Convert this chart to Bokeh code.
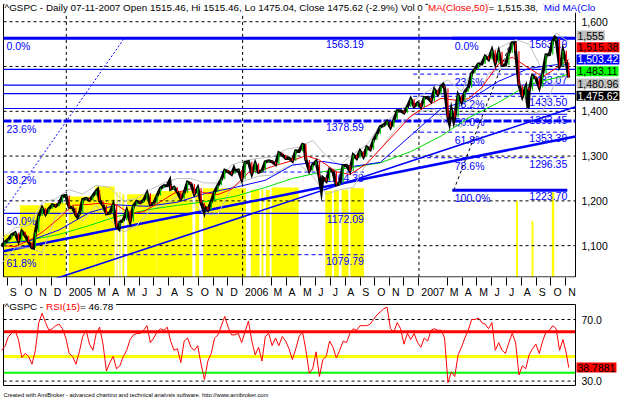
import pandas as pd
from bokeh.plotting import figure
from bokeh.models import Range1d, FixedTicker, Label, ColumnDataSource
from bokeh.layouts import column
from bokeh.embed import file_html
from bokeh.resources import INLINE
from bokeh.core.properties import value

# ======================= DATA =======================
first_week = "2004-08-20"
last_day = "2007-11-07"
weekly_close = [
    1098.35, 1107.77, 1113.63, 1123.92, 1128.55, 1110.11, 1131.50, 1122.14, 1108.20, 1095.74,
    1130.20, 1166.17, 1184.17, 1170.34, 1182.65, 1191.17, 1188.00, 1194.20, 1210.13, 1211.92,
    1186.19, 1184.52, 1167.87, 1171.36, 1203.03, 1205.30, 1201.59, 1211.37, 1222.12, 1200.08,
    1190.21, 1171.42, 1172.92, 1191.14, 1142.62, 1152.12, 1156.85, 1178.84, 1154.05, 1189.28,
    1198.78, 1196.02, 1200.93, 1216.96, 1191.57, 1194.44, 1211.86, 1227.92, 1233.68, 1234.18,
    1226.42, 1230.39, 1219.71, 1205.10, 1218.02, 1241.48, 1237.91, 1215.29, 1228.81, 1195.90,
    1186.57, 1179.59, 1198.41, 1220.14, 1234.72, 1248.27, 1268.25, 1265.08, 1259.37, 1267.32,
    1268.66, 1248.29, 1285.45, 1287.61, 1261.49, 1283.72, 1264.03, 1266.99, 1287.24, 1289.43,
    1287.23, 1281.42, 1307.25, 1302.95, 1294.83, 1295.50, 1289.12, 1311.28, 1310.61, 1325.76,
    1291.24, 1267.03, 1280.16, 1288.22, 1252.30, 1251.54, 1244.50, 1270.20, 1265.48, 1236.20,
    1240.29, 1278.55, 1279.36, 1266.74, 1302.30, 1295.09, 1311.01, 1298.92, 1319.66, 1314.78,
    1335.85, 1349.59, 1365.62, 1368.60, 1377.34, 1364.30, 1380.90, 1401.20, 1400.95, 1396.71,
    1409.84, 1427.09, 1410.76, 1418.30, 1409.71, 1430.73, 1430.50, 1422.18, 1448.39, 1438.06,
    1455.54, 1451.19, 1387.17, 1402.84, 1386.95, 1436.11, 1420.86, 1443.76, 1452.85, 1484.35,
    1494.07, 1505.62, 1505.85, 1522.75, 1515.73, 1536.34, 1507.67, 1532.91, 1502.56, 1503.35,
    1530.44, 1552.50, 1534.10, 1458.95, 1433.06, 1453.64, 1445.94, 1479.37, 1473.99, 1453.55,
    1484.25, 1525.75, 1526.75, 1557.59, 1561.80, 1500.63, 1535.28, 1509.65, 1475.62]

swing_dates = ["2004-10-25", "2005-01-24", "2005-03-07", "2005-04-20", "2005-08-03",
               "2005-10-13", "2005-12-14", "2006-05-08", "2006-06-13", "2006-07-18",
               "2007-02-20", "2007-03-05", "2007-03-14", "2007-07-19", "2007-08-15",
               "2007-10-09", "2007-10-22"]
swing_closes = [1094.81, 1163.75, 1225.31, 1137.50, 1245.04, 1176.84, 1272.74, 1324.66,
                1223.69, 1236.86, 1459.68, 1374.12, 1377.95, 1553.08, 1406.70, 1565.15, 1506.33]

band_upper = [1115, 1140, 1145, 1195, 1205, 1225, 1215, 1235, 1230, 1200, 1205, 1225, 1240,
              1250, 1250, 1240, 1240, 1280, 1290, 1295, 1298, 1315, 1320, 1335, 1300, 1280,
              1305, 1325, 1370, 1390, 1415, 1435, 1455, 1470, 1445, 1500, 1530, 1545, 1560,
              1550, 1490, 1575, 1555]
band_lower = [1060, 1095, 1095, 1085, 1165, 1180, 1155, 1190, 1160, 1130, 1145, 1180, 1190,
              1210, 1200, 1170, 1170, 1230, 1245, 1255, 1258, 1275, 1282, 1255, 1215, 1225,
              1230, 1285, 1315, 1355, 1385, 1400, 1405, 1370, 1365, 1415, 1485, 1495, 1495,
              1395, 1400, 1470, 1480.96]

ma50_dates = ["2004-08-20", "2004-09-17", "2004-10-15", "2004-11-12", "2004-12-17",
              "2005-01-14", "2005-02-15", "2005-03-15", "2005-04-15", "2005-05-13", "2005-06-10",
              "2005-07-15", "2005-08-12", "2005-09-16", "2005-10-14", "2005-11-11", "2005-12-09",
              "2006-01-13", "2006-02-10", "2006-03-10", "2006-04-14", "2006-05-12", "2006-06-09",
              "2006-07-14", "2006-08-11", "2006-09-15", "2006-10-13", "2006-11-10", "2006-12-15",
              "2007-01-12", "2007-02-16", "2007-03-16", "2007-04-13", "2007-05-11", "2007-06-15",
              "2007-07-13", "2007-08-10", "2007-09-14", "2007-10-12", "2007-11-07"]
ma50_vals = [1100, 1098, 1111, 1130, 1161, 1190, 1192, 1195, 1191, 1171, 1176, 1198, 1217,
             1227, 1218, 1214, 1226, 1263, 1269, 1279, 1290, 1301, 1291, 1265, 1259, 1283,
             1316, 1348, 1389, 1409, 1429, 1425, 1428, 1453, 1506, 1521, 1501, 1477, 1496, 1515.38]

ma_long_dates = ["2004-08-20", "2004-10-15", "2004-12-17", "2005-02-18", "2005-04-15",
                 "2005-06-17", "2005-08-19", "2005-10-14", "2005-12-16", "2006-02-17",
                 "2006-04-14", "2006-06-16", "2006-08-18", "2006-10-13", "2006-12-15",
                 "2007-02-16", "2007-04-13", "2007-06-15", "2007-08-17", "2007-10-12", "2007-11-07"]
ma_mid_vals = [1105, 1110, 1135, 1174, 1191, 1188, 1197, 1216, 1230, 1246, 1280, 1288, 1277,
               1286, 1346, 1406, 1424, 1467, 1496, 1504, 1503.42]
ma200_vals = [1105, 1112, 1125, 1145, 1165, 1180, 1190, 1198, 1210, 1230, 1250, 1265, 1275,
              1285, 1310, 1345, 1385, 1420, 1460, 1475, 1483.11]

rsi_vals = [
    50, 52.5, 58.9, 61, 63, 56.8, 45.2, 48, 46, 41,
    50, 68, 74, 68, 63, 64, 66, 67, 64, 58,
    48, 46, 41, 49, 59, 63, 54, 50, 61, 65,
    54, 36.5, 42, 46, 38, 40, 46, 50, 57, 60,
    61, 61, 63, 66, 55, 58, 62, 64, 63, 65,
    56, 50, 51, 42, 56, 58, 52, 50, 53, 41,
    31, 43, 48, 58, 60, 66, 72, 65, 60, 60,
    61, 55, 62, 69, 56, 47, 52, 43, 59, 61,
    53, 58, 53, 59, 56, 51, 44, 51, 59, 62,
    50, 35, 38, 49, 33, 44, 46, 56, 52, 45,
    50, 56, 55, 61, 64, 63, 66, 66, 66, 67,
    70, 73, 75, 77, 78, 64, 62, 68, 64, 54,
    61, 57, 61, 55, 52, 58, 56, 63, 64, 63,
    63, 58, 29, 36, 33, 47, 52, 58, 63, 70,
    70, 71, 68, 67, 64, 68, 50, 55, 50, 48,
    55, 61, 55, 34, 40, 38, 47, 51, 54, 48,
    56, 62, 63, 66, 64, 50, 57, 48, 38.79]

yellow_start = ["2004-08-24", "2004-09-27", "2004-11-17", "2005-01-06", "2005-03-02",
                "2005-04-15", "2005-04-21", "2005-04-27", "2005-05-07", "2005-07-07",
                "2005-09-25", "2005-10-11", "2006-01-18", "2006-02-09", "2006-02-18",
                "2006-03-02", "2006-06-21", "2006-07-09", "2006-07-25", "2006-08-12",
                "2007-07-21", "2007-08-22", "2007-10-03"]
yellow_end = ["2004-09-27", "2004-11-17", "2004-12-31", "2005-03-02", "2005-04-11",
              "2005-04-17", "2005-04-23", "2005-05-01", "2005-07-07", "2005-09-19",
              "2005-10-03", "2006-01-08", "2006-02-05", "2006-02-13", "2006-02-26",
              "2006-04-27", "2006-07-05", "2006-07-19", "2006-08-08", "2006-09-09",
              "2007-07-25", "2007-08-26", "2007-10-08"]
yellow_top = [1125, 1190, 1195, 1210, 1232, 1220, 1220, 1215, 1215, 1222, 1215, 1228, 1225,
              1225, 1225, 1230, 1222, 1225, 1225, 1228, 1200, 1155, 1219]

hline_prices = [1493.75, 1458.3, 1439.6, 1406.25]

fib_left_pct = ["0.0%", "23.6%", "38.2%", "50.0%", "61.8%"]
fib_left_price = [1563.19, 1378.59, 1264.38, 1172.09, 1079.79]
fib_left_end = "2006-09-09"
fib_right_pct = ["0.0%", "23.6%", "38.2%", "50.0%", "61.8%", "78.6%", "100.0%"]
fib_right_price = [1563.19, 1483.07, 1433.50, 1393.45, 1353.39, 1296.35, 1223.70]
fib_right_start = "2006-12-20"
fib_right_label = "2007-03-14"
fib_right_end = "2007-11-04"

trend_d0 = ["2004-08-24", "2004-12-06"]
trend_p0 = [1087.5, 1025.0]
trend_d1 = ["2007-11-21", "2007-11-21"]
trend_p1 = [1343.75, 1410.4]
fibdiag_left = (["2004-08-24", "2005-05-01"], [1177.0, 1563.19])
fibdiag_right = (["2007-03-14", "2007-07-13"], [1223.70, 1563.19])

month_dates = ["2004-09-01", "2004-10-01", "2004-11-01", "2004-12-01", "2005-01-01", "2005-03-01",
               "2005-04-01", "2005-05-01", "2005-06-01", "2005-07-01", "2005-08-01", "2005-09-01",
               "2005-10-01", "2005-11-01", "2005-12-01", "2006-01-01", "2006-03-01", "2006-04-01",
               "2006-05-01", "2006-06-01", "2006-07-01", "2006-08-01", "2006-09-01", "2006-10-01",
               "2006-11-01", "2006-12-01", "2007-01-01", "2007-03-01", "2007-04-01", "2007-05-01",
               "2007-06-01", "2007-07-01", "2007-08-01", "2007-09-01", "2007-10-01", "2007-11-01"]
month_labels = ["S", "O", "N", "D", "2005", "M", "A", "M", "J", "J", "A", "S", "O", "N", "D",
                "2006", "M", "A", "M", "J", "J", "A", "S", "O", "N", "D", "2007", "M", "A",
                "M", "J", "J", "A", "S", "O", "N"]
year_lines = ["2005-01-01", "2006-01-01", "2007-01-01"]

price_grid = [1100, 1200, 1300, 1400, 1500, 1600]
price_tick_vals = [1100, 1200, 1300, 1400, 1600]
price_tick_labels = ["1,100", "1,200", "1,300", "1,400", "1,600"]

marker_values = [1555.0, 1515.38, 1503.42, 1483.11, 1480.96, 1475.62]
marker_texts = ["1,555", "1,515.38", "1,503.42", "1,483.11", "1,480.96", "1,475.62"]
marker_bg = ["#C0C0C0", "#FF0000", "#0000FF", "#00FF00", "#C0C0C0", "#000000"]
marker_fg = ["black", "black", "white", "black", "black", "white"]

rsi_grid = [30, 70]
rsi_tick_labels = ["30.0", "70.0"]
rsi_levels = [62, 46, 35.5]
rsi_level_colors = ["#FF0000", "#FFFF00", "#00FF00"]
rsi_last = 38.7881

title_parts = [("^GSPC - Daily 07-11-2007 Open 1515.46, Hi 1515.46, Lo 1475.04, Close 1475.62 (-2.9%) Vol 0 ", "black"),
               ("MA(Close,50)", "#FF0000"), (" = 1,515.38, ", "black"), ("Mid MA(Clo", "#0000FF")]
rsi_title_parts = [("^GSPC - ", "black"), ("RSI(15)", "#FF0000"), (" = 46.78", "black")]
credit = "Created with AmiBroker - advanced charting and technical analysis software. http://www.amibroker.com"

# ======================= LAYOUT =======================
BASE = pd.Timestamp("2004-09-01")
W, H1, H2 = 623, 300, 97
BL, BR = 3, 48                 # pixel margins of the plotting area inside the full-width frame
XMIN, XMAX = -8, 1176
PPD = (W - BL - BR) / (XMAX - XMIN)
XL, XR = XMIN - BL / PPD, XMAX + BR / PPD
AXH = 13                       # height of the month axis
PPU = 0.464                    # pixels per index point
YTOP = 1600 + 22 / PPU
YBOT = YTOP - (H1 - AXH) / PPU
YB_TOP = YTOP - 4 / PPU        # panel top border
YB_BOT = YBOT + 0.6 / PPU      # panel bottom border
RPPU = 1.54
RT = 70 + 19 / RPPU
RB = RT - H2 / RPPU
RB_TOP = RT - 4 / RPPU
RB_BOT = RT - 85 / RPPU
FONT = "Liberation Sans"
BLUE = "#0000FF"
FS = 9.9

AW = {' ': 278, '%': 889, '(': 333, ')': 333, ',': 278, '-': 333, '.': 278, '/': 278, ':': 278,
      '=': 584, '^': 469, 'A': 667, 'B': 667, 'C': 722, 'D': 722, 'E': 667, 'F': 611, 'G': 778,
      'H': 722, 'I': 278, 'J': 500, 'K': 667, 'L': 556, 'M': 833, 'N': 722, 'O': 778, 'P': 667,
      'R': 722, 'S': 667, 'T': 611, 'V': 667, 'a': 556, 'b': 556, 'c': 500, 'd': 556, 'e': 556,
      'f': 278, 'g': 556, 'h': 556, 'i': 222, 'k': 500, 'l': 222, 'm': 833, 'n': 556, 'o': 556,
      'p': 556, 'r': 333, 's': 500, 't': 278, 'u': 556, 'v': 500, 'w': 722, 'y': 500, 'z': 500}


def tw(s, size):
    return sum(AW.get(ch, 556) for ch in s) * size / 1000.0


def d(s):
    return (pd.Timestamp(s) - BASE).days


week_dates = [t.strftime("%Y-%m-%d") for t in
              pd.date_range(first_week, periods=len(weekly_close) - 1, freq="7D")] + [last_day]
wk_x = [d(s) for s in week_dates]
band_x = wk_x[::4]


def make_fig(height, yr, xr, x_axis):
    f = figure(width=W, height=height, x_range=xr, y_range=yr, output_backend="svg",
               toolbar_location=None, x_axis_location="below" if x_axis else None,
               y_axis_location=None, min_border_left=0, min_border_right=0,
               min_border_top=0, min_border_bottom=0,
               background_fill_color="white", border_fill_color="white")
    f.outline_line_color = None
    f.grid.visible = False
    return f


def frame_lines(f, ytop, ybot, grid_vals, tick_vals, tick_labels):
    f.segment(x0=[XMIN, XMAX, XMIN, XMIN], y0=[ybot, ybot, ytop, ybot],
              x1=[XMIN, XMAX, XMAX, XMAX], y1=[ytop, ytop, ytop, ybot],
              line_color="black", line_width=1)
    f.segment(x0=[XMIN] * len(grid_vals), y0=grid_vals, x1=[XMAX] * len(grid_vals), y1=grid_vals,
              line_color="black", line_width=1, line_dash="3 3")
    f.text(x=[XMAX] * len(tick_vals), y=tick_vals, text=tick_labels, text_font=value(FONT),
           text_font_size="10.5px", text_color="black", text_baseline="middle",
           text_align="left", x_offset=6)


def add_title(f, parts, y, yoff, size):
    off = 1.0
    for txt, col in parts:
        f.add_layout(Label(x=XMIN, y=y, x_offset=off, y_offset=yoff, text=txt, text_color=col,
                           text_font=FONT, text_font_size=f"{size}px", text_baseline="middle",
                           text_align="left", background_fill_color="white"))
        off += tw(txt, size)


def spread(vals, ppu, h):
    idx = sorted(range(len(vals)), key=lambda i: -vals[i])
    nat = [vals[i] * ppu for i in idx]
    groups = [[k] for k in range(len(idx))]

    def place(g):
        c = sum(nat[k] for k in g) / len(g)
        n = len(g)
        return [c + ((n - 1) / 2 - j) * h for j in range(n)]

    changed = True
    while changed:
        changed = False
        for gi in range(len(groups) - 1):
            a, b = place(groups[gi]), place(groups[gi + 1])
            if a[-1] - b[0] < h:
                groups[gi] = groups[gi] + groups[gi + 1]
                del groups[gi + 1]
                changed = True
                break
    offs = [0.0] * len(vals)
    for g in groups:
        for k, pos in zip(g, place(g)):
            offs[idx[k]] = pos - nat[k]
    return offs


# ---------------- main price panel ----------------
xrange_shared = Range1d(XL, XR)
p = make_fig(H1, Range1d(YBOT, YTOP), xrange_shared, True)

lab_pos, overrides = [], {}
for ds, lab in zip(month_dates, month_labels):
    c = int(round(d(ds) + (2.5 + tw(lab, 10.5) / 2) / PPD))
    lab_pos.append(c)
    overrides[c] = lab
p.xaxis.ticker = FixedTicker(ticks=lab_pos, minor_ticks=[d(s) for s in month_dates])
p.xaxis.major_label_overrides = overrides
p.xaxis.major_tick_line_color = None
p.xaxis.major_tick_out = 0
p.xaxis.major_tick_in = 0
p.xaxis.minor_tick_out = 8
p.xaxis.minor_tick_in = 0
p.xaxis.minor_tick_line_color = "black"
p.xaxis.axis_line_color = None
p.xaxis.major_label_standoff = 0
p.xaxis.major_label_text_font = FONT
p.xaxis.major_label_text_font_size = "10.5px"
p.xaxis.major_label_text_color = "black"

# yellow histogram zones
p.quad(left=[d(s) for s in yellow_start], right=[d(s) for s in yellow_end], bottom=YB_BOT,
       top=yellow_top, fill_color="#FFFF00", line_color=None)

frame_lines(p, YB_TOP, YB_BOT, price_grid, price_tick_vals, price_tick_labels)
p.segment(x0=[d(s) for s in year_lines], y0=YB_BOT, x1=[d(s) for s in year_lines], y1=YB_TOP,
          line_color="black", line_width=1, line_dash="3 3")

# horizontal support lines
p.segment(x0=XMIN, y0=hline_prices, x1=XMAX, y1=hline_prices, line_color=BLUE, line_width=1.2)

# left Fibonacci
lstyle = [(3, "solid", XMAX), (3, "8 2", XMAX), (1, "4 3", d(fib_left_end)),
          (1.2, "solid", d(fib_left_end)), (1, "4 3", d(fib_left_end))]
for pr, (lw, dash, xe) in zip(fib_left_price, lstyle):
    p.line([XMIN, xe], [pr, pr], line_color=BLUE, line_width=lw, line_dash=dash)
# right Fibonacci
rstyle = [(3, "solid"), (1, "4 3"), (1, "4 3"), (1.2, "solid"), (1, "4 3"), (1, "4 3"), (3, "solid")]
for pr, (lw, dash) in zip(fib_right_price, rstyle):
    xs = d(fib_right_label) - 3 if lw == 3 else d(fib_right_start)
    p.line([xs, d(fib_right_end)], [pr, pr], line_color=BLUE, line_width=lw, line_dash=dash)

lsrc = ColumnDataSource(dict(x=[XMIN] * len(fib_left_price), y=fib_left_price, t=fib_left_pct,
                             x2=[d(fib_left_end)] * len(fib_left_price),
                             t2=[f"{v:.2f}" for v in fib_left_price]))
p.text(x="x", y="y", text="t", source=lsrc, text_font=value(FONT), text_font_size="10.5px",
       text_color=BLUE, text_baseline="top", text_align="left", x_offset=3, y_offset=2)
p.text(x="x2", y="y", text="t2", source=lsrc, text_font=value(FONT), text_font_size="10.5px",
       text_color=BLUE, text_baseline="top", text_align="right", x_offset=0, y_offset=2)
rsrc = ColumnDataSource(dict(x=[d(fib_right_label)] * len(fib_right_price), y=fib_right_price,
                             t=fib_right_pct, x2=[d(fib_right_end)] * len(fib_right_price),
                             t2=[f"{v:.2f}" for v in fib_right_price]))
p.text(x="x", y="y", text="t", source=rsrc, text_font=value(FONT), text_font_size="10.5px",
       text_color=BLUE, text_baseline="top", text_align="left", x_offset=1, y_offset=2)
p.text(x="x2", y="y", text="t2", source=rsrc, text_font=value(FONT), text_font_size="10.5px",
       text_color=BLUE, text_baseline="top", text_align="right", x_offset=0, y_offset=2)

# trend lines
p.line([d(fibdiag_left[0][0]), d(fibdiag_left[0][1])], fibdiag_left[1], line_color=BLUE,
       line_width=1, line_dash="2 2")
p.line([d(fibdiag_right[0][0]), d(fibdiag_right[0][1])], fibdiag_right[1], line_color="black",
       line_width=1, line_dash="3 3")
p.line([d(trend_d0[0]), d(trend_d1[0])], [trend_p0[0], trend_p1[0]], line_color=BLUE, line_width=2.5)
p.line([d(trend_d0[1]), d(trend_d1[1])], [trend_p0[1], trend_p1[1]], line_color=BLUE, line_width=1.6)

# bands and moving averages
p.line(band_x, band_upper, line_color="#C0C0C0", line_width=1)
p.line(band_x, band_lower, line_color="#C0C0C0", line_width=1)
p.line([d(s) for s in ma_long_dates], ma200_vals, line_color="#00DD00", line_width=1)
p.line([d(s) for s in ma_long_dates], ma_mid_vals, line_color=BLUE, line_width=1)
p.line([d(s) for s in ma50_dates], ma50_vals, line_color="#FF0000", line_width=1)

# price (dense candles)
pts = sorted(list(zip(wk_x, weekly_close)) + [(d(s), c) for s, c in zip(swing_dates, swing_closes)])
p.line([a for a, _ in pts], [b for _, b in pts], line_color="black", line_width=3.2,
       line_join="miter")
prev = [weekly_close[0]] + weekly_close[:-1]
p.vbar(x=wk_x, width=2.5, top=[max(a, b) for a, b in zip(prev, weekly_close)],
       bottom=[min(a, b) for a, b in zip(prev, weekly_close)],
       fill_color=["#00C000" if c >= o else "#FF0000" for o, c in zip(prev, weekly_close)],
       line_color=None)

add_title(p, title_parts, YB_TOP, -3, FS)

for v, t, bg, fg, o in zip(marker_values, marker_texts, marker_bg, marker_fg,
                           spread(marker_values, PPU, 12.3)):
    p.add_layout(Label(x=XMAX, y=v, x_offset=1, y_offset=o, text=t, text_color=fg,
                       background_fill_color=bg, text_font=FONT, text_font_size="10.5px",
                       text_baseline="middle", text_align="left", padding=1))

# ---------------- RSI panel ----------------
q = make_fig(H2, Range1d(RB, RT), xrange_shared, False)
for lv, col in zip(rsi_levels, rsi_level_colors):
    q.line([XMIN, XMAX], [lv, lv], line_color=col, line_width=3 if col != "#00FF00" else 2)
frame_lines(q, RB_TOP, RB_BOT, rsi_grid, rsi_grid, rsi_tick_labels)
q.line(wk_x, rsi_vals, line_color="#FF0000", line_width=1)
add_title(q, rsi_title_parts, RB_TOP, -1.5, FS)
q.add_layout(Label(x=XMAX, y=rsi_last, x_offset=1, text=f"{rsi_last:.4f}", text_color="black",
                   background_fill_color="#FF0000", text_font=FONT, text_font_size="10.5px",
                   text_baseline="middle", text_align="left", padding=1))
q.add_layout(Label(x=XMIN, y=RB_BOT, x_offset=0, y_offset=-9, text=credit, text_color="black",
                   text_font=FONT, text_font_size="5.8px", text_baseline="middle", text_align="left"))

layout = column(p, q, spacing=0)
open("out.html", "w").write(file_html(layout, INLINE))
